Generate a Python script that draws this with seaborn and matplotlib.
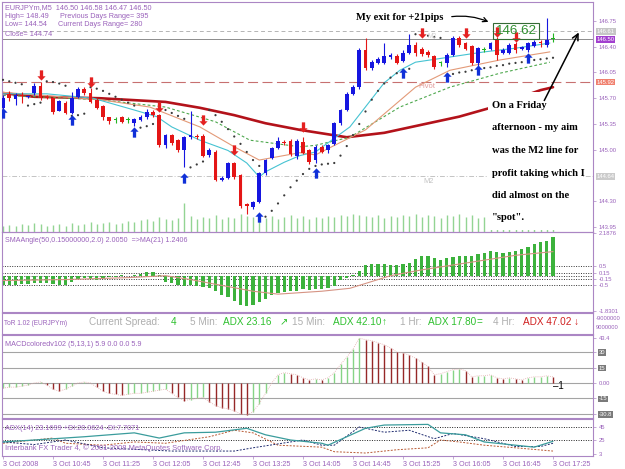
import matplotlib
matplotlib.use("Agg")
import matplotlib.pyplot as plt
import seaborn as sns
import numpy as np
from matplotlib.path import Path
from matplotlib.patches import Rectangle, FancyArrowPatch
from matplotlib.transforms import IdentityTransform, blended_transform_factory

sns.set_style("white")
plt.rcParams['font.family'] = ['Liberation Sans', 'DejaVu Sans']

# ---------------- data (EURJPYm M5, 3 Oct 2008) ----------------
opens = [145.57, 145.76, 145.69, 145.74, 145.72, 145.77, 145.87, 145.72, 145.70, 145.53,
         145.64, 145.50, 145.72, 145.83, 145.77, 145.68, 145.59, 145.44, 145.40, 145.44,
         145.40, 145.36, 145.41, 145.44, 145.51, 145.47, 145.06, 145.20, 145.13, 144.99,
         145.17, 145.19, 145.18, 144.93, 144.97, 144.59, 144.62, 144.82, 144.65, 144.26,
         144.22, 144.29, 144.68, 144.89, 145.03, 145.11, 145.12, 144.92, 145.11, 144.99,
         144.86, 145.04, 144.99, 145.08, 145.36, 145.54, 145.76, 145.85, 146.36, 146.11,
         146.18, 146.18, 146.26, 146.27, 146.21, 146.32, 146.42, 146.37, 146.33, 146.27,
         146.18, 146.18, 146.29, 146.52, 146.45, 146.41, 146.18, 146.36, 146.37, 146.49,
         146.32, 146.32, 146.44, 146.37, 146.36, 146.41, 146.47, 146.42, 146.50]
highs = [145.74, 145.80, 145.77, 145.78, 145.75, 145.91, 145.92, 145.75, 145.72, 145.68,
         145.66, 145.78, 145.85, 145.85, 145.84, 145.70, 145.61, 145.45, 145.45, 145.46,
         145.44, 145.43, 145.47, 145.55, 145.54, 145.49, 145.22, 145.22, 145.15, 145.19,
         145.52, 145.21, 145.21, 145.02, 145.00, 144.64, 144.84, 144.84, 144.67, 144.27,
         144.31, 144.70, 144.88, 145.04, 145.17, 145.13, 145.14, 145.14, 145.17, 145.01,
         145.06, 145.07, 145.08, 145.38, 145.56, 145.78, 145.88, 146.38, 146.52, 146.22,
         146.26, 146.45, 146.31, 146.30, 146.35, 146.57, 146.46, 146.40, 146.35, 146.29,
         146.21, 146.32, 146.54, 146.55, 146.47, 146.43, 146.40, 146.39, 146.47, 146.53,
         146.38, 146.45, 146.46, 146.41, 146.47, 146.49, 146.49, 146.79, 146.58]
lows = [145.53, 145.66, 145.61, 145.64, 145.70, 145.75, 145.68, 145.69, 145.49, 145.52,
        145.48, 145.48, 145.70, 145.75, 145.63, 145.55, 145.40, 145.35, 145.36, 145.36,
        145.37, 145.32, 145.39, 145.42, 145.45, 145.04, 145.02, 145.07, 144.97, 144.76,
        145.15, 145.15, 144.90, 144.90, 144.57, 144.57, 144.60, 144.60, 144.21, 144.12,
        144.20, 144.27, 144.66, 144.87, 145.01, 145.07, 144.92, 144.88, 144.94, 144.80,
        144.82, 144.95, 144.96, 145.06, 145.34, 145.52, 145.74, 145.83, 146.09, 146.08,
        146.16, 146.16, 146.24, 146.16, 146.19, 146.30, 146.28, 146.28, 146.26, 146.10,
        146.14, 146.13, 146.27, 146.40, 146.35, 146.15, 146.14, 146.33, 146.35, 146.22,
        146.30, 146.30, 146.31, 146.35, 146.33, 146.39, 146.40, 146.40, 146.47]
closes = [145.70, 145.71, 145.75, 145.73, 145.73, 145.87, 145.70, 145.71, 145.51, 145.66,
          145.50, 145.70, 145.83, 145.77, 145.65, 145.57, 145.44, 145.39, 145.40, 145.38,
          145.40, 145.42, 145.45, 145.51, 145.47, 145.06, 145.20, 145.09, 144.99, 145.17,
          145.20, 145.17, 144.92, 144.99, 144.59, 144.62, 144.82, 144.63, 144.23, 144.23,
          144.29, 144.68, 144.86, 145.02, 145.12, 145.09, 144.94, 145.12, 144.96, 144.83,
          145.04, 144.97, 145.06, 145.36, 145.54, 145.76, 145.85, 146.36, 146.11, 146.19,
          146.23, 146.27, 146.29, 146.18, 146.32, 146.42, 146.31, 146.30, 146.29, 146.12,
          146.18, 146.29, 146.52, 146.42, 146.37, 146.18, 146.38, 146.36, 146.45, 146.29,
          146.36, 146.42, 146.36, 146.39, 146.45, 146.47, 146.45, 146.49, 146.50]
volumes = [24, 28, 24, 32, 28, 36, 32, 24, 28, 32,
           24, 36, 28, 32, 40, 32, 36, 40, 32, 36,
           44, 40, 48, 52, 44, 60, 52, 48, 56, 116,
           64, 52, 60, 56, 68, 52, 60, 56, 72, 64,
           60, 60, 56, 64, 52, 60, 68, 56, 64, 52,
           60, 56, 64, 60, 68, 64, 72, 68, 64, 60,
           68, 56, 64, 60, 68, 64, 72, 60, 68, 64,
           56, 68, 64, 72, 60, 68, 56, 60, 64, 56,
           60, 52, 64, 56, 60, 52, 56, 48, 20]
sar = [145.95, 145.93, 145.91, 145.89, 145.60, 145.62, 145.64, 145.93, 145.92, 145.90,
       145.87, 145.46, 145.47, 145.49, 145.85, 145.83, 145.80, 145.76, 145.72, 145.68,
       145.64, 145.60, 145.30, 145.32, 145.35, 145.56, 145.54, 145.50, 145.46, 145.42,
       144.76, 144.80, 144.84, 145.54, 145.47, 145.38, 145.28, 145.18, 145.08, 144.97,
       144.86, 144.78, 144.09, 144.17, 144.27, 144.38, 144.49, 144.58, 144.67, 144.74,
       144.78, 144.80, 144.81, 144.82, 144.92, 145.05, 145.20, 145.35, 145.52, 145.68,
       145.80, 145.90, 145.98, 146.04, 146.08, 146.10, 146.57, 146.56, 146.55, 146.53,
       146.52, 146.02, 146.03, 146.05, 146.06, 146.08, 146.09, 146.11, 146.12, 146.14,
       146.15, 146.17, 146.18, 146.19, 146.21, 146.22, 146.23, 146.24, 146.25]

up_bars = [0, 11, 21, 29, 41, 50, 64, 71, 76, 84]
up_prices = [145.50, 145.40, 145.24, 144.62, 144.09, 144.68, 146.04, 145.99, 146.08, 146.25]
down_bars = [6, 14, 25, 32, 37, 48, 67, 74, 79, 82]
down_prices = [146.02, 145.92, 145.58, 145.40, 144.99, 145.31, 146.59, 146.59, 146.60, 146.53]

sma50_bars = [0, 5, 15.5, 26, 31.5, 37, 42, 47.5, 55, 61, 67, 73, 78, 86, 88]
sma50_vals = [145.77, 145.72, 145.70, 145.65, 145.57, 145.47, 145.36, 145.27, 145.17,
              145.23, 145.34, 145.45, 145.57, 145.81, 145.85]
fast_bars = [0, 7, 14.4, 21, 24.6, 27, 31.5, 36, 39, 41, 42, 45, 47.5, 50, 55.5, 61,
             63.5, 66, 71.5, 77, 82, 87.5]
fast_vals = [145.76, 145.76, 145.70, 145.54, 145.45, 145.31, 145.13, 144.99, 144.82, 144.63,
             144.70, 144.83, 144.92, 144.97, 145.31, 145.91, 146.08, 146.19, 146.26, 146.33,
             146.38, 146.45]
mid_bars = [0, 15.5, 23.5, 31.5, 37, 41, 47.5, 50, 58, 66, 71.5, 79.5, 87.5]
mid_vals = [145.78, 145.68, 145.58, 145.31, 145.04, 144.86, 144.96, 144.93, 145.27, 145.85,
            146.08, 146.22, 146.33]
slow_bars = [0, 15.5, 26, 34, 39.5, 47.5, 50, 55.5, 63.5, 71.5, 79.5, 87.5]
slow_vals = [145.74, 145.68, 145.58, 145.38, 145.13, 145.04, 145.06, 145.17, 145.58, 145.85,
             146.04, 146.19]

angle_vals = [-0.50, -0.48, -0.47, -0.45, -0.45, -0.40, -0.38, -0.40, -0.42, -0.50,
              -0.48, -0.30, -0.15, -0.12, -0.18, -0.20, -0.15, -0.08, -0.05, 0.03,
              -0.03, 0.05, 0.08, 0.20, 0.18, 0.05, -0.30, -0.40, -0.48, -0.55,
              -0.50, -0.55, -0.60, -0.62, -0.80, -1.00, -1.10, -1.30, -1.50, -1.58,
              -1.50, -1.35, -1.20, -1.00, -0.90, -0.85, -0.80, -0.80, -0.70, -0.75,
              -0.70, -0.70, -0.65, -0.55, -0.20, -0.10, 0.05, 0.25, 0.55, 0.60,
              0.58, 0.60, 0.55, 0.55, 0.60, 0.65, 0.85, 1.00, 1.00, 0.90,
              0.80, 0.90, 0.95, 1.00, 1.00, 1.00, 1.10, 1.15, 1.25, 1.20,
              1.15, 1.20, 1.25, 1.35, 1.50, 1.65, 1.75, 1.80, 2.00]
angle_ma_bars = [0, 10, 20, 26, 30, 35, 40, 44, 51, 55.5, 62, 67, 75, 82, 88]
angle_ma_vals = [-0.25, -0.20, -0.10, 0.00, -0.20, -0.50, -0.80, -0.95, -0.80, -0.65,
                 0.00, 0.30, 0.70, 1.05, 1.24]

macd_vals = [-5, -4, -4, -3, -2, 0, 1, -2, -6, -8,
             -6, -3, 0, 1, 0, -4, -8, -10, -11, -12,
             -11, -10, -10, -9, -8, -7, -6, -10, -14, -17,
             -16, -15, -14, -18, -22, -24, -25, -27, -30, -30.8,
             -28, -20, -10, 0, 8, 10, 9, 8, 5, 3,
             4, 3, 5, 10, 18, 25, 33, 43.4, 42, 41,
             39, 37, 34, 30, 29, 27, 24, 20, 16, 8,
             9, 11, 13, 13.5, 12, 6, 7, 7, 8, 5,
             4, 5, 4, 3, 5, 6, 6, 7, 5.9]

adx_bars = [0, 5, 13, 21, 25, 29, 34, 39, 42, 46, 51, 52, 58, 61, 68, 70, 74, 77, 85, 88]
adx_vals = [22, 25, 30, 36, 28, 36, 37, 43, 33, 25, 20, 17, 43, 48, 49, 36, 33, 22, 14, 23]
pdi_bars = [0, 5, 10, 16, 27, 37, 40, 48, 51, 53, 57, 61, 65, 69, 72, 77, 82, 86, 88]
pdi_vals = [22, 18, 25, 13, 8, 8, 13, 25, 17, 17, 45, 37, 40, 27, 35, 27, 15, 15, 20]
mdi_bars = [0, 8, 10, 16, 21, 26, 33, 37, 40, 44, 51, 53, 58, 63, 68, 70, 73, 77, 82, 88]
mdi_vals = [20, 28, 20, 17, 22, 20, 30, 40, 36, 17, 14, 7, 5, 10, 13, 25, 22, 17, 13, 8]

tick_bars = [0, 8, 16, 24, 32, 40, 48, 56, 64, 72, 80, 88]
tick_labels = ['3 Oct 2008', '3 Oct 10:45', '3 Oct 11:25', '3 Oct 12:05', '3 Oct 12:45',
               '3 Oct 13:25', '3 Oct 14:05', '3 Oct 14:45', '3 Oct 15:25', '3 Oct 16:05',
               '3 Oct 16:45', '3 Oct 17:25']
price_ticks = [146.75, 146.40, 146.05, 145.70, 145.35, 145.00, 144.30, 143.95]
level_lines = [146.61, 146.50, 145.92, 144.64]

# ---------------- layout helpers ----------------
PURPLE = '#9a62bb'
FRAME = '#ab86c4'
W, H = 625, 469
XLIM = (-0.16, 94.4)


def rect(x0, y0, x1, y1):
    return [x0 / W, 1 - y1 / H, (x1 - x0) / W, (y1 - y0) / H]


def ftext(x, y, s, **kw):
    kw.setdefault('va', 'center')
    return fig.text(x / W, 1 - y / H, s, **kw)


def frame(ax, labelsize=4.2):
    for s in ax.spines.values():
        s.set_color(FRAME)
        s.set_linewidth(0.8)
    ax.set_xlim(*XLIM)
    ax.set_xlabel('')
    ax.set_ylabel('')
    ax.tick_params(axis='x', bottom=False, labelbottom=False)
    ax.yaxis.tick_right()
    ax.tick_params(axis='y', right=True, length=2, width=0.5, color=FRAME,
                   labelsize=labelsize, labelcolor=PURPLE, pad=2)


fig = plt.figure(figsize=(6.25, 4.69), dpi=100)
ax_vol = fig.add_axes(rect(2, 2, 593, 232))
ax_main = fig.add_axes(rect(2, 2, 593, 232))
ax_ang = fig.add_axes(rect(2, 232, 593, 312))
ax_tor = fig.add_axes(rect(2, 313, 593, 334))
ax_macd = fig.add_axes(rect(2, 335, 593, 418))
ax_adx = fig.add_axes(rect(2, 419, 593, 456))
ax_vol.set_zorder(0)
ax_main.set_zorder(1)
ax_main.patch.set_alpha(0)

n = len(closes)
bars = np.arange(n)

# ---------------- volumes ----------------
ax_vol.vlines(bars, 0, volumes, colors='#93d493', lw=1.0)
ax_vol.set_xlim(*XLIM)
ax_vol.set_ylim(0, 920)
ax_vol.axis('off')

# ---------------- main price chart ----------------
ax = ax_main
ax.axhline(level_lines[0], color='#b4b4b4', lw=0.7, ls=(0, (4, 3)), zorder=1)
ax.axhline(level_lines[1], color='#8c8c8c', lw=0.7, zorder=1)
ax.axhline(level_lines[2], color='#c77070', lw=0.8, ls=(0, (9, 4)), zorder=1)
ax.axhline(level_lines[3], color='#c4c4c4', lw=0.7, ls=(0, (5, 2, 1, 2)), zorder=1)

sns.lineplot(x=sma50_bars, y=sma50_vals, ax=ax, color='#b3121a', lw=1.9, zorder=2)
sns.lineplot(x=slow_bars, y=slow_vals, ax=ax, color='#4ea84e', lw=0.8,
             linestyle=(0, (2.5, 2)), zorder=2)
sns.lineplot(x=mid_bars, y=mid_vals, ax=ax, color='#e39a78', lw=0.8, zorder=2)
sns.lineplot(x=fast_bars, y=fast_vals, ax=ax, color='#46c3d2', lw=0.8, zorder=2)
sns.scatterplot(x=bars, y=sar, ax=ax, color='#3a3a3a', s=2.5, marker='o',
                edgecolor='none', zorder=3)

o = np.array(opens)
c = np.array(closes)
col = np.where(c > o, '#1616e0', np.where(c < o, '#e41616', '#22b422'))
ax.vlines(bars, lows, highs, colors=col, lw=0.8, zorder=3)
ax.bar(bars, np.maximum(np.abs(c - o), 0.012), bottom=np.minimum(o, c), width=0.62,
       color=col, lw=0, zorder=4)

up_path = Path([(0, 1), (0.8, 0.15), (0.32, 0.15), (0.32, -1), (-0.32, -1),
                (-0.32, 0.15), (-0.8, 0.15), (0, 1)], closed=True)
down_path = Path([(x, -y) for x, y in up_path.vertices], closed=True)
ax.scatter(up_bars, up_prices, marker=up_path, s=55, color='#1030d8', lw=0, zorder=5)
ax.scatter(down_bars, down_prices, marker=down_path, s=55, color='#e42020', lw=0, zorder=5)

frame(ax)
ax.set_ylim(143.882, 147.008)
ax.set_yticks(price_ticks)
ax.set_yticklabels([f'{p:.2f}' for p in price_ticks])
trans = blended_transform_factory(ax.transAxes, ax.transData)
for price, bg in zip(level_lines, ['#c6c6c6', '#a23fcf', '#f0806e', '#cbcbcb']):
    ax.text(1.006, price, f'{price:.2f}', transform=trans, fontsize=4.2, color='white',
            va='center', ha='left', clip_on=False,
            bbox=dict(boxstyle='square,pad=0.15', fc=bg, ec='none'))

# ---------------- SMA angle panel ----------------
ax = ax_ang
for lvl in [0.5, 0.15, 0.0, -0.15, -0.5]:
    ax.axhline(lvl, color='#333333', lw=0.7, ls=(0, (1, 1.5)), zorder=1)
ax.bar(bars, angle_vals, width=0.5, color='#3cb23c', lw=0, zorder=2)
sns.lineplot(x=angle_ma_bars, y=angle_ma_vals, ax=ax, color='#d69484', lw=0.8, zorder=3)
frame(ax)
ax.set_ylim(-1.87, 2.25)
ax.set_yticks([2.1876, 0.5, 0.15, -0.15, -0.5, -1.8301])
ax.set_yticklabels(['2.1876', '0.5', '0.15', '-0.15', '-0.5', '-1.8301'])

# ---------------- ToR strip ----------------
ax = ax_tor
frame(ax)
ax.set_yticks([])
GREY, GREEN, RED = '#aeaeae', '#2fc02f', '#d02020'
ftext(4, 323, 'ToR 1.02 (EURJPYm)', fontsize=4.7, color=PURPLE)
for x, s, colr in [(89, 'Current Spread:', GREY), (171, '4', GREEN), (190, '5 Min:', GREY),
                   (223, 'ADX 23.16', GREEN), (280, '\u2197', GREEN), (292, '15 Min:', GREY),
                   (333, 'ADX 42.10', GREEN), (382, '\u2191', GREEN), (400, '1 Hr:', GREY),
                   (428, 'ADX 17.80', GREEN), (477, '=', GREEN), (493, '4 Hr:', GREY),
                   (523, 'ADX 47.02', RED), (574, '\u2193', RED)]:
    ftext(x, 322, s, fontsize=7.2, color=colr)
ftext(596, 318, '-9000000', fontsize=4.2, color=PURPLE)
ftext(596, 327, '9000000', fontsize=4.2, color=PURPLE)

# ---------------- MACD panel ----------------
ax = ax_macd
for lvl in [30, 15, 0, -15, -30]:
    ax.axhline(lvl, color='#a4a4a4', lw=0.8, zorder=1)
mv = np.array(macd_vals)
rising = np.concatenate([[True], mv[1:] >= mv[:-1]])
ax.vlines(bars, 0, mv, colors=np.where(rising, '#86d486', '#962828'), lw=1.0, zorder=2)
ax.plot(bars, mv, color='#e3aaaa', lw=0.6, ls=(0, (1, 1.5)), zorder=2)
frame(ax)
ax.set_ylim(-33.9, 46.5)
ax.set_yticks([43.4, 30, 15, 0, -15, -30])
ax.set_yticklabels(['43.4', '30', '15', '0.00', '-15', '-30.8'])
for lbl in ax.get_yticklabels():
    if lbl.get_text() in ('30', '15', '-15', '-30.8'):
        lbl.set_color('white')
        lbl.set_bbox(dict(boxstyle='square,pad=0.1', fc='#7a7a7a', ec='none'))
ftext(553, 386, '\u20131', fontsize=7, color='black')

# ---------------- ADX panel ----------------
ax = ax_adx
for lvl in [45, 25]:
    ax.axhline(lvl, color='#222222', lw=0.7, ls=(0, (1, 1.5)), zorder=1)
sns.lineplot(x=mdi_bars, y=mdi_vals, ax=ax, color='#b85a34', lw=0.7,
             linestyle=(0, (2, 1.5)), zorder=2)
sns.lineplot(x=pdi_bars, y=pdi_vals, ax=ax, color='#1e2a6e', lw=0.7,
             linestyle=(0, (2, 1.5)), zorder=2)
sns.lineplot(x=adx_bars, y=adx_vals, ax=ax, color='#3a9c9c', lw=0.9, zorder=3)
frame(ax)
ax.set_ylim(0.4, 57.3)
ax.set_yticks([45, 25, 3])
ax.set_yticklabels(['45', '25', '3'])
ax.set_xticks(tick_bars)
ax.set_xticklabels(tick_labels, ha='left')
ax.tick_params(axis='x', bottom=True, labelbottom=True, length=2, width=0.5, color=FRAME,
               labelsize=5.2, labelcolor=PURPLE, pad=1.5)

# ---------------- panel captions ----------------
ftext(5, 8, 'EURJPYm,M5  146.50 146.58 146.47 146.50', fontsize=5.2, color=PURPLE)
ftext(5, 17, 'High= 148.49', fontsize=5.2, color=PURPLE)
ftext(60, 17, 'Previous Days Range= 395', fontsize=5.2, color=PURPLE)
ftext(5, 25, 'Low= 144.54', fontsize=5.2, color=PURPLE)
ftext(58, 25, 'Current Days Range= 280', fontsize=5.2, color=PURPLE)
ftext(5, 34, 'Close= 144.74', fontsize=5.2, color=PURPLE)
ftext(5, 240, 'SMAAngle(50,0.15000000,2.0) 2.0050  =>MA(21) 1.2406', fontsize=5.1, color=PURPLE)
ftext(5, 344, 'MACDcoloredv102 (5,13,1) 5.9 0.0 0.0 5.9', fontsize=5.2, color=PURPLE)
ftext(5, 428, 'ADX(14) 23.1699 +DI:20.0624 -DI:7.7071', fontsize=5.2, color=PURPLE)
ftext(5, 448, 'Interbank FX Trader 4, \u00a9 2001-2008 MetaQuotes Software Corp.',
      fontsize=5.4, color=PURPLE)
ftext(418, 87, 'Pivot', fontsize=5.4, color='#e29a9a')
ftext(423, 181, 'M2', fontsize=5.4, color='#c4c4c4')
ftext(427, 36, 'M3', fontsize=4.8, color='#d4d4d4')

# ---------------- hand annotations ----------------
fig.add_artist(Rectangle((488, H - 230), 95, 138, transform=IdentityTransform(),
                         facecolor='white', edgecolor='none', zorder=5))
serif = dict(family='Liberation Serif', weight='bold', color='black', fontsize=7.6, zorder=6)
for y, s in zip([105, 128, 150, 173, 195, 218],
                ['On a Friday', 'afternoon - my aim', 'was the M2 line for',
                 'profit taking which I', 'did almost on the', '"spot".']):
    ftext(492, y, s, **serif)
ftext(356, 18, 'My exit for +21pips', **serif)
ftext(516, 31, '146.62', fontsize=9.6, color='#2f8f2f', ha='center', zorder=6,
      bbox=dict(boxstyle='square,pad=0.18', fc='none', ec='#356b35', lw=0.8))
fig.add_artist(FancyArrowPatch((449, H - 17), (491, H - 23), transform=IdentityTransform(),
                               arrowstyle='->', mutation_scale=8, lw=0.9, color='black',
                               connectionstyle='arc3,rad=-0.15', zorder=6))
fig.add_artist(FancyArrowPatch((543, H - 103), (580, H - 30), transform=IdentityTransform(),
                               arrowstyle='->', mutation_scale=11, lw=1.1, color='black',
                               zorder=6))

fig.savefig('out.png', dpi=100, facecolor='white')
